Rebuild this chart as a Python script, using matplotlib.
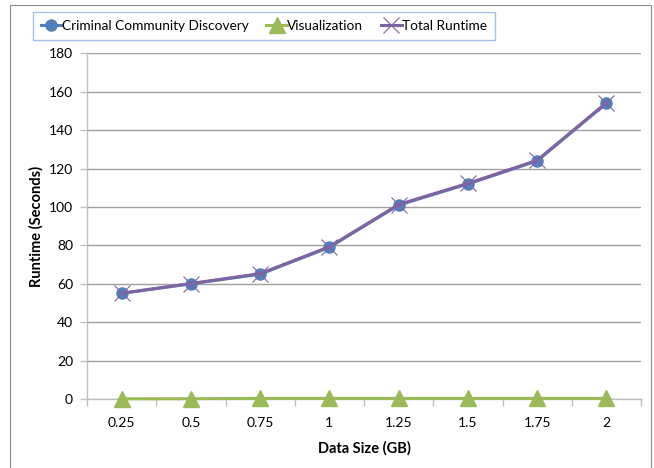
import matplotlib.pyplot as plt
from matplotlib.patches import Rectangle
import numpy as np

data_sizes = ['0.25', '0.5', '0.75', '1', '1.25', '1.5', '1.75', '2']
community_discovery = [55, 60, 65, 79, 101, 112, 124, 154]
visualization = [0.1, 0.15, 0.3, 0.3, 0.3, 0.3, 0.3, 0.3]
total_runtime = [c + v for c, v in zip(community_discovery, visualization)]

plt.rcParams['font.family'] = ['Lato', 'DejaVu Sans']

fig = plt.figure(figsize=(6.54, 4.68), dpi=100)
ax = fig.add_axes([87 / 654, 1 - 399 / 468, (641 - 87) / 654, (399 - 53.4) / 468])

# outer chart frame
fig.patches.append(Rectangle((10 / 654, -0.05), (651 - 10) / 654, 1.05 - 5 / 468,
                             transform=fig.transFigure, fill=False,
                             edgecolor='#8c8c8c', linewidth=0.8))

x = np.arange(len(data_sizes))
ax.plot(x, community_discovery, color='#4F81BD', linewidth=2.2, marker='o',
        markersize=8, label='Criminal Community Discovery', zorder=3)
ax.plot(x, visualization, color='#9BBB59', linewidth=2.2, marker='^',
        markersize=11, label='Visualization', zorder=3, clip_on=False)
ax.plot(x, total_runtime, color='#8064A2', linewidth=2.2, marker='x',
        markersize=11, markeredgewidth=0.8, label='Total Runtime', zorder=4)

ax.set_xlim(-0.5, len(data_sizes) - 0.5)
ax.set_ylim(0, 180)
ax.set_yticks(range(0, 181, 20))
ax.set_xticks(x)
ax.set_xticklabels(data_sizes)
ax.set_xticks(np.arange(-0.5, len(data_sizes)), minor=True)
ax.tick_params(axis='x', which='major', length=0, pad=13, labelsize=10)
ax.tick_params(axis='x', which='minor', length=5, color='#bfbfbf', width=1)
ax.tick_params(axis='y', length=5, color='#bfbfbf', width=1, labelsize=10, pad=5)

ax.grid(axis='y', color='#a0a0a0', linewidth=1)
ax.set_axisbelow(True)
for side in ['top', 'right']:
    ax.spines[side].set_visible(False)
for side in ['left', 'bottom']:
    ax.spines[side].set_color('#bfbfbf')
    ax.spines[side].set_linewidth(1)

ax.set_xlabel('Data Size (GB)', fontweight='bold', fontsize=10.5, labelpad=9)
ax.set_ylabel('Runtime (Seconds)', fontweight='bold', fontsize=10.5, labelpad=4)

leg = fig.legend(loc='center', bbox_to_anchor=(264 / 654, 1 - 26 / 468), ncol=3,
                 fontsize=9.8, frameon=True, fancybox=False, handlelength=1.5,
                 handletextpad=0.05, columnspacing=1.3, borderpad=0.6,
                 borderaxespad=0)
leg.get_frame().set_edgecolor('#8DB3E2')
leg.get_frame().set_linewidth(1)

plt.savefig('out.png', dpi=100)
